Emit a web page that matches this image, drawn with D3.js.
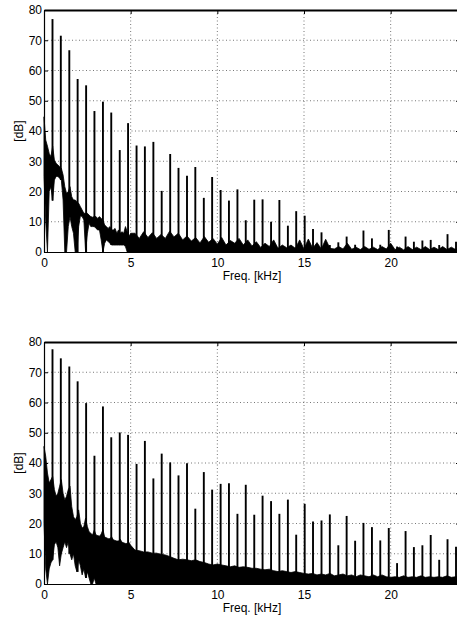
<!DOCTYPE html>
<html>
<head>
<meta charset="utf-8">
<script src="https://cdnjs.cloudflare.com/ajax/libs/d3/7.8.5/d3.min.js"></script>
<style>
body { margin: 0; background: #fff; }
svg { display: block; font-family: "Liberation Sans", Arial, sans-serif; }
.grid line { stroke: #777; stroke-width: 1; stroke-dasharray: 1,2.5; }
.axis { font-family: "Liberation Sans", Arial, sans-serif; }
.axis text { font-size: 12px; fill: #000; }
.axis line, .axis path { stroke: #000; }
.label { font-size: 12px; fill: #000; }
</style>
</head>
<body>
<div id="chart"></div>
<script>
// x ticks (kHz) and y ticks (dB)
var xTicks = [0, 5, 10, 15, 20];
var yTicks = [0, 10, 20, 30, 40, 50, 60, 70, 80];

// harmonic frequencies in kHz (same fundamental in both plots)
var harmFreq = [0.49, 0.97, 1.46, 1.94, 2.43, 2.91, 3.40, 3.88, 4.37, 4.85,
  5.34, 5.82, 6.31, 6.79, 7.28, 7.76, 8.25, 8.73, 9.22, 9.70,
  10.19, 10.67, 11.16, 11.64, 12.13, 12.61, 13.10, 13.58, 14.07, 14.55,
  15.04, 15.52, 16.01, 16.49, 16.98, 17.46, 17.95, 18.43, 18.92, 19.40,
  19.89, 20.37, 20.86, 21.34, 21.83, 22.31, 22.80, 23.28, 23.77];

// peak level of each harmonic, dB
var topPeaks = [77.0, 71.5, 66.7, 57.2, 55.1, 46.6, 49.7, 46.1, 33.7, 42.6,
  35.2, 34.9, 36.4, 20.2, 32.4, 27.8, 25.2, 28.1, 17.9, 24.8,
  20.5, 17.0, 20.7, 10.5, 17.3, 17.4, 10.0, 17.2, 8.7, 13.5,
  12.0, 7.6, 6.5, 2.3, 3.2, 5.1, 2.4, 7.1, 4.5, 2.4,
  7.3, 1.8, 5.1, 3.4, 3.8, 4.0, 2.3, 5.9, 3.4];
var bottomPeaks = [77.6, 74.6, 71.9, 67.0, 59.8, 42.4, 58.7, 48.5, 50.1, 49.3,
  39.7, 47.3, 34.9, 43.1, 40.2, 35.9, 39.9, 24.9, 37.0, 31.2,
  33.1, 33.3, 23.2, 32.8, 22.9, 29.2, 27.4, 23.2, 27.9, 16.3,
  26.5, 20.7, 21.0, 23.0, 12.8, 22.5, 14.3, 20.2, 18.8, 14.4,
  18.5, 6.9, 17.5, 12.2, 12.8, 16.2, 8.0, 14.8, 12.3];

// frequencies where the noise floor was read (kHz)
var noiseFreq = [0, 0.1, 0.2, 0.3, 0.4, 0.5, 0.6, 0.7, 0.8, 0.9,
  1.0, 1.1, 1.2, 1.3, 1.4, 1.5, 1.6, 1.7, 1.8, 1.9,
  2.0, 2.1, 2.2, 2.3, 2.4, 2.5, 2.6, 2.7, 2.8, 2.9,
  3.0, 3.1, 3.2, 3.3, 3.4, 3.5, 3.6, 3.7, 3.8, 3.9,
  4.0, 4.1, 4.2, 4.3, 4.4, 4.5, 4.6, 4.7, 4.8, 4.9, 5.0,
  5.25, 5.5, 5.75, 6.0, 6.25, 6.5, 6.75, 7.0, 7.25, 7.5, 7.75, 8.0,
  8.25, 8.5, 8.75, 9.0, 9.25, 9.5, 9.75, 10.0, 10.25, 10.5, 10.75, 11.0,
  11.25, 11.5, 11.75, 12.0, 12.25, 12.5, 12.75, 13.0, 13.25, 13.5, 13.75, 14.0,
  14.25, 14.5, 14.75, 15.0, 15.25, 15.5, 15.75, 16.0, 16.25, 16.5, 16.75, 17.0,
  17.25, 17.5, 17.75, 18.0, 18.25, 18.5, 18.75, 19.0, 19.25, 19.5, 19.75, 20.0,
  20.25, 20.5, 20.75, 21.0, 21.25, 21.5, 21.75, 22.0, 22.25, 22.5, 22.75, 23.0,
  23.25, 23.5, 23.75, 24.0];

// upper edge of the noise band, dB
var topNoiseHi = [44.7, 37, 35, 32.6, 31.5, 35, 30.4, 29.3, 28.8, 28.2,
  27.7, 25.5, 21.6, 19.4, 20, 21.6, 18.3, 17.2, 17.2, 16.6,
  16.1, 15, 13.9, 12.8, 12.8, 12.8, 12.2, 11.7, 11.5, 11.7,
  11.7, 11.1, 11.7, 11.1, 10.6, 8.9, 8.4, 7.8, 8.4, 7.3,
  7.3, 7.8, 6.2, 7.3, 6.2, 6.7, 6.2, 8.4, 6.7, 5.1, 6.2,
  6.2, 4.5, 6.7, 4.8, 6.4, 4.5, 5.8, 4.5, 6.9, 5.0, 6.2, 4.0,
  5.3, 3.6, 4.8, 3.0, 5.1, 3.2, 4.5, 2.6, 4.8, 2.3, 3.8, 2.9,
  4.5, 2.3, 4.0, 2.0, 3.4, 1.5, 2.9, 1.8, 4.0, 1.2, 2.3, 1.4,
  2.3, 1.2, 4.0, 1.0, 4.3, 1.2, 3.1, 1.0, 4.2, 1.2, 1.0, 1.8,
  1.0, 2.9, 0.9, 1.6, 0.8, 1.8, 0.9, 1.6, 0.8, 1.8, 1.0, 2.9,
  0.8, 1.6, 0.7, 1.8, 0.8, 1.6, 0.8, 1.8, 0.8, 1.6, 0.8, 1.8,
  0.8, 1.6, 0.8, 1.6];
var bottomNoiseHi = [45.5, 42.2, 36.7, 33.4, 34.5, 35.6, 31.2, 29, 30, 32.3,
  34.5, 30, 27.8, 29, 31.2, 32.3, 25.6, 22.3, 21.2, 22.3,
  24.5, 20.1, 18.5, 19, 21.8, 19, 17.3, 16.8, 16.2, 17.8,
  16.2, 16, 15.8, 16.5, 18, 15.5, 15.3, 15, 15, 15.6,
  14.6, 14.4, 14.2, 14.2, 14.8, 13.8, 13.6, 13.4, 13.4, 13.8, 12.8,
  11.2, 11, 10.6, 10.6, 10.2, 10.2, 9.8, 9.6, 9.1, 8.5, 8.0, 8.2,
  8.0, 7.7, 8.0, 7.4, 7.1, 6.6, 6.3, 6.6, 6.3, 6.0, 5.7, 6.0,
  5.5, 5.7, 5.5, 5.2, 5.2, 4.9, 4.7, 4.9, 4.4, 4.1, 4.4, 4.1,
  3.8, 4.1, 3.8, 3.5, 3.3, 3.5, 3.0, 3.3, 3.0, 3.5, 2.7, 3.0,
  3.3, 2.7, 3.0, 2.4, 3.0, 2.7, 2.4, 3.0, 2.4, 3.0, 2.4, 2.2,
  2.4, 2.2, 2.7, 2.2, 2.4, 2.2, 2.7, 2.2, 2.4, 2.2, 2.4, 2.2,
  2.7, 2.2, 2.4, 2.4];

// lower edge of the noise band, 0-5 kHz only (above 5 kHz it sits on 0 dB)
var topNoiseLo = [25, 10, 0, 20, 21.6, 17, 23.8, 25, 25, 24.4,
  23.8, 17.2, 0, 0, 8.4, 11.7, 8.4, 6.2, 0, 0,
  8.4, 12, 11.7, 10.6, 0, 6, 9.5, 8.4, 8.4, 8.4,
  7.8, 7.3, 7.3, 4, 0, 2.9, 4, 3.5, 2.9, 2.3,
  2.3, 2.3, 2.3, 2.3, 2.3, 2.3, 2.3, 1.8, 0, 0, 0];
var bottomNoiseLo = [20, 5, 0, 5, 7, 8, 13, 14, 12, 6,
  10, 12, 14, 12, 14, 10, 8, 10, 6, 4,
  8, 6, 3, 5, 2, 4, 2, 0, 0, 2,
  0, 0, 0, 0, 0, 0, 0, 0, 0, 0,
  0, 0, 0, 0, 0, 0, 0, 0, 0, 0, 0];

var margin = {left: 44},
    plotW = 416,
    plotH = 242;

var svg = d3.select("#chart").append("svg")
    .attr("width", 457)
    .attr("height", 619);

drawPanel(10, topNoiseHi, topNoiseLo, topPeaks);
drawPanel(342, bottomNoiseHi, bottomNoiseLo, bottomPeaks);

function drawPanel(top, noiseHi, noiseLo, peaks) {
    var g = svg.append("g").attr("transform", "translate(" + margin.left + "," + top + ")");

    var x = d3.scaleLinear().domain([0, 24]).range([0, plotW]);
    var y = d3.scaleLinear().domain([0, 80]).range([plotH, 0]);

    // dotted grid
    var grid = g.append("g").attr("class", "grid");
    grid.selectAll(".gx").data(xTicks.slice(1)).enter().append("line")
        .attr("x1", function(d) { return x(d); })
        .attr("x2", function(d) { return x(d); })
        .attr("y1", 0).attr("y2", plotH);
    grid.selectAll(".gy").data(yTicks.slice(1, -1)).enter().append("line")
        .attr("y1", function(d) { return y(d); })
        .attr("y2", function(d) { return y(d); })
        .attr("x1", 0).attr("x2", plotW);

    // noise floor band
    var band = noiseFreq.map(function(f, i) {
        return {f: f, hi: noiseHi[i], lo: noiseLo[i] ?? 0};
    });
    var area = d3.area()
        .x(function(d) { return x(d.f); })
        .y0(function(d) { return y(d.lo); })
        .y1(function(d) { return y(d.hi); });
    g.append("path")
        .datum(band)
        .attr("fill", "#000")
        .attr("stroke", "#000")
        .attr("stroke-width", 0.8)
        .attr("d", area);

    // harmonic peaks, from the bottom of the band up to the peak
    var bisect = d3.bisector(function(d) { return d.f; }).center;
    g.selectAll(".harm").data(harmFreq).enter().append("line")
        .attr("x1", function(d) { return x(d); })
        .attr("x2", function(d) { return x(d); })
        .attr("y1", function(d) { return y(band[bisect(band, d)].lo); })
        .attr("y2", function(d, i) { return y(peaks[i]); })
        .attr("stroke", "#000")
        .attr("stroke-width", 1.9);

    // axes, ticks pointing inwards like matlab
    g.append("g")
        .attr("class", "axis")
        .attr("transform", "translate(0," + plotH + ")")
        .call(d3.axisBottom(x).tickValues(xTicks).tickSizeInner(-4).tickSizeOuter(0).tickPadding(6.5));
    g.append("g")
        .attr("class", "axis axis--top")
        .call(d3.axisTop(x).tickValues(xTicks).tickSizeInner(-4).tickSizeOuter(0).tickFormat(""));
    g.append("g")
        .attr("class", "axis")
        .call(d3.axisLeft(y).tickValues(yTicks).tickSizeInner(-4).tickSizeOuter(0).tickPadding(2));
    g.append("g")
        .attr("class", "axis")
        .attr("transform", "translate(" + plotW + ",0)")
        .call(d3.axisRight(y).tickValues(yTicks).tickSizeInner(-4).tickSizeOuter(0).tickFormat(""));
    g.selectAll(".axis path").attr("stroke-width", 1.2);
    g.select(".axis--top path").attr("stroke-width", 2);

    // labels
    g.append("text")
        .attr("class", "label")
        .attr("x", plotW / 2)
        .attr("y", plotH + 28)
        .attr("text-anchor", "middle")
        .text("Freq. [kHz]");
    g.append("text")
        .attr("class", "label")
        .attr("transform", "translate(" + (-21) + "," + (plotH / 2) + ") rotate(-90)")
        .attr("text-anchor", "middle")
        .text("[dB]");
}
</script>
</body>
</html>
